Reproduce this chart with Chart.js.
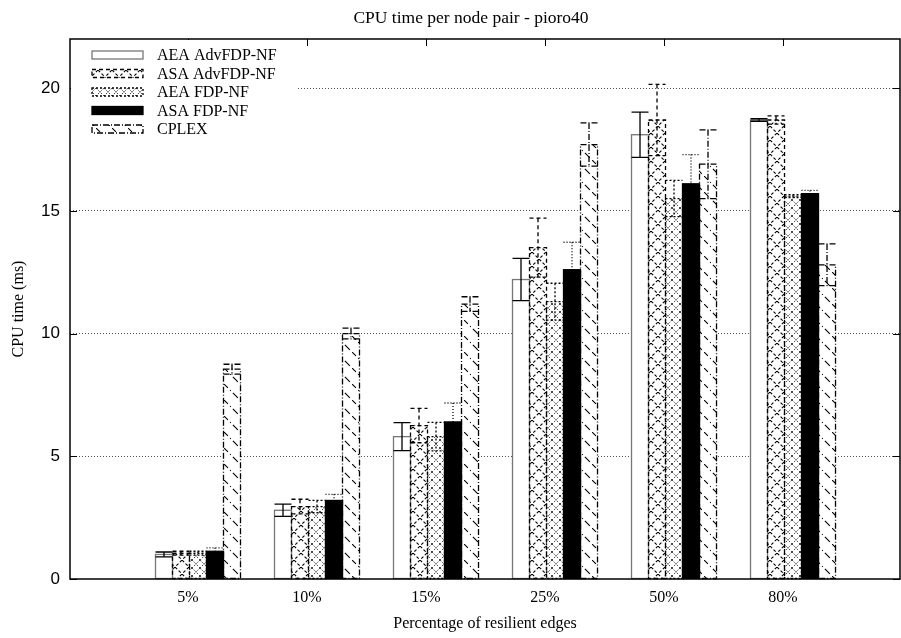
<!DOCTYPE html>
<html>
<head>
<meta charset="utf-8">
<script src="https://cdn.jsdelivr.net/npm/chart.js@4.4.1/dist/chart.umd.min.js"></script>
<style>
  html, body { margin: 0; padding: 0; background: #fff; }
</style>
</head>
<body>
<canvas id="chart" width="901" height="638"></canvas>
<script>
// values
const categories = ['5%', '10%', '15%', '25%', '50%', '80%'];
const yTicks = [0, 5, 10, 15, 20];

const aeaAdvFdp    = [1.0, 2.8, 5.8, 12.2, 18.1, 18.7];
const aeaAdvFdpErr = [0.1, 0.25, 0.57, 0.86, 0.92, 0.05];
const asaAdvFdp    = [1.05, 2.95, 6.25, 13.5, 18.7, 18.7];
const asaAdvFdpErr = [0.08, 0.3, 0.7, 1.2, 1.45, 0.17];
const aeaFdp       = [1.05, 2.95, 5.8, 11.3, 15.5, 15.6];
const aeaFdpErr    = [0.08, 0.25, 0.58, 0.75, 0.74, 0.06];
const asaFdp       = [1.13, 3.2, 6.4, 12.6, 16.1, 15.7];
const asaFdpErr    = [0.14, 0.25, 0.77, 1.12, 1.19, 0.13];
const cplex        = [8.55, 10.0, 11.2, 17.7, 16.9, 12.8];
const cplexErr     = [0.2, 0.22, 0.3, 0.88, 1.4, 0.85];

const seriesNames  = ['AEA AdvFDP-NF', 'ASA AdvFDP-NF', 'AEA FDP-NF', 'ASA FDP-NF', 'CPLEX'];
const seriesValues = [aeaAdvFdp, asaAdvFdp, aeaFdp, asaFdp, cplex];
const seriesErrors = [aeaAdvFdpErr, asaAdvFdpErr, aeaFdpErr, asaFdpErr, cplexErr];

const chartTitle = 'CPU time per node pair - pioro40';

const SERIF = '"Liberation Serif", "Times New Roman", serif';
const SANS = '"Liberation Sans", Arial, sans-serif';

function makePattern(size, draw) {
    const c = document.createElement('canvas');
    c.width = size; c.height = size;
    const g = c.getContext('2d');
    g.fillStyle = '#fff';
    g.fillRect(0, 0, size, size);
    g.strokeStyle = '#000';
    draw(g, size);
    return g.createPattern(c, 'repeat');
}

const fills = [
    '#ffffff',
    makePattern(14, (g, s) => {
        g.lineWidth = 1.1;
        g.setLineDash([3, 2]);
        g.beginPath();
        g.moveTo(0, 0); g.lineTo(s, s);
        g.moveTo(s, 0); g.lineTo(0, s);
        g.stroke();
    }),
    makePattern(8, (g, s) => {
        g.lineWidth = 1;
        g.setLineDash([1, 1.5]);
        g.beginPath();
        g.moveTo(0, 0); g.lineTo(s, s);
        g.moveTo(s, 0); g.lineTo(0, s);
        g.stroke();
    }),
    '#000000',
    makePattern(16, (g, s) => {
        g.lineWidth = 1.1;
        g.setLineDash([7, 3, 1, 3]);
        g.beginPath();
        g.moveTo(-1, -1); g.lineTo(s + 1, s + 1);
        g.stroke();
    }),
];
const outlineColors = ['#777', '#000', '#000', '#000', '#000'];
const outlineDashes = [[], [4, 3], [2, 2], [], [6, 2, 1, 2]];
const errDashes = [[], [4, 3], [2, 2], [1, 2], [6, 2, 1, 2]];

// bars sit on x = 1..6, labels/ticks drawn a bit left like gnuplot does
const tickShift = -10;

const decorPlugin = {
    id: 'decor',
    beforeDatasetsDraw(chart) {
        const {ctx, chartArea: a, scales: {x, y}} = chart;
        ctx.save();
        ctx.strokeStyle = '#000';
        ctx.lineWidth = 1;
        ctx.beginPath();
        yTicks.forEach(v => {
            const py = Math.round(y.getPixelForValue(v)) + 0.5;
            ctx.moveTo(a.left, py); ctx.lineTo(a.left + 7, py);
            ctx.moveTo(a.right - 7, py); ctx.lineTo(a.right, py);
        });
        categories.forEach((c, i) => {
            const px = Math.round(x.getPixelForValue(i + 1) + tickShift) + 0.5;
            ctx.moveTo(px, a.top); ctx.lineTo(px, a.top + 7);
            ctx.moveTo(px, a.bottom - 7); ctx.lineTo(px, a.bottom);
        });
        ctx.stroke();
        ctx.restore();
    },
    afterDatasetsDraw(chart) {
        const {ctx, chartArea: a, scales: {y}} = chart;
        ctx.save();

        // bar outlines
        seriesValues.forEach((vals, si) => {
            const meta = chart.getDatasetMeta(si);
            ctx.strokeStyle = outlineColors[si];
            ctx.lineWidth = 1.3;
            ctx.setLineDash(outlineDashes[si]);
            meta.data.forEach(bar => {
                const p = bar.getProps(['x', 'y', 'base', 'width'], true);
                ctx.strokeRect(p.x - p.width / 2, p.y, p.width, p.base - p.y);
            });
        });

        // error bars
        seriesValues.forEach((vals, si) => {
            const meta = chart.getDatasetMeta(si);
            ctx.strokeStyle = '#000';
            ctx.lineWidth = 1.3;
            ctx.setLineDash(errDashes[si]);
            meta.data.forEach((bar, i) => {
                const p = bar.getProps(['x', 'width'], true);
                const top = y.getPixelForValue(vals[i] + seriesErrors[si][i]);
                const bot = y.getPixelForValue(vals[i] - seriesErrors[si][i]);
                const l = p.x - p.width / 2, r = p.x + p.width / 2;
                ctx.beginPath();
                ctx.moveTo(p.x, top); ctx.lineTo(p.x, bot);
                ctx.moveTo(l, top); ctx.lineTo(r, top);
                ctx.moveTo(l, bot); ctx.lineTo(r, bot);
                ctx.stroke();
            });
        });
        ctx.setLineDash([]);

        // key, top left inside the plot
        ctx.fillStyle = '#fff';
        ctx.fillRect(a.left + 1, a.top + 1, 227, 100);
        ctx.font = '16px ' + SERIF;
        ctx.textBaseline = 'middle';
        seriesNames.forEach((name, si) => {
            const cy = a.top + 16 + si * 18.5;
            ctx.fillStyle = fills[si];
            ctx.fillRect(92, cy - 4, 51, 8);
            ctx.strokeStyle = outlineColors[si];
            ctx.lineWidth = 1.3;
            ctx.setLineDash(outlineDashes[si]);
            ctx.strokeRect(92, cy - 4, 51, 8);
            ctx.setLineDash([]);
            ctx.fillStyle = '#000';
            ctx.fillText(name, 157, cy + 1);
        });

        // frame
        ctx.strokeStyle = '#000';
        ctx.lineWidth = 1.5;
        ctx.strokeRect(a.left, a.top, a.right - a.left, a.bottom - a.top);

        // title (gnuplot puts it off the plot centre)
        ctx.font = '17.5px ' + SERIF;
        ctx.textAlign = 'center';
        ctx.fillStyle = '#000';
        ctx.fillText(chartTitle, 471, 18);
        ctx.restore();
    }
};

const datasets = seriesNames.map((name, si) => ({
    label: name,
    data: seriesValues[si].map((v, i) => ({x: i + 1, y: v})),
    backgroundColor: fills[si],
    borderWidth: 0,
    categoryPercentage: 5 / 7,
    barPercentage: 1,
}));

new Chart(document.getElementById('chart'), {
    type: 'bar',
    data: {datasets: datasets},
    options: {
        responsive: false,
        animation: false,
        layout: {padding: {right: 1, left: 0, top: 39, bottom: 0}},
        plugins: {
            legend: {display: false},
            tooltip: {enabled: false},
            title: {display: false},
        },
        scales: {
            x: {
                type: 'linear',
                min: -0.0756,
                max: 6.899,
                offset: false,
                afterBuildTicks: (scale) => {
                    scale.ticks = categories.map((c, i) => ({value: i + 1}));
                },
                afterFit: (scale) => { scale.height = 59; },
                grid: {display: false, drawTicks: false},
                border: {display: false},
                ticks: {
                    color: '#000',
                    font: {family: SERIF, size: 16},
                    padding: 9,
                    labelOffset: tickShift,
                    maxRotation: 0,
                    autoSkip: false,
                    callback: (v) => categories[v - 1],
                },
                title: {
                    display: true,
                    text: 'Percentage of resilient edges',
                    color: '#000',
                    font: {family: SERIF, size: 16},
                    padding: {top: 0, bottom: 5},
                },
            },
            y: {
                min: 0,
                max: 22,
                afterBuildTicks: (scale) => {
                    scale.ticks = yTicks.map(v => ({value: v}));
                },
                afterFit: (scale) => { scale.width = 70; },
                grid: {
                    drawTicks: false,
                    lineWidth: 1,
                    color: (ctx) => ctx.tick && ctx.tick.value === 0 ? 'rgba(0,0,0,0)' : '#555',
                },
                border: {display: false, dash: [1, 2]},
                ticks: {
                    color: '#000',
                    font: {family: SANS, size: 17},
                    padding: 10,
                },
                title: {
                    display: true,
                    text: 'CPU time (ms)',
                    color: '#000',
                    font: {family: SERIF, size: 16},
                    padding: {top: 9, bottom: 0},
                },
            },
        },
    },
    plugins: [decorPlugin],
});
</script>
</body>
</html>
